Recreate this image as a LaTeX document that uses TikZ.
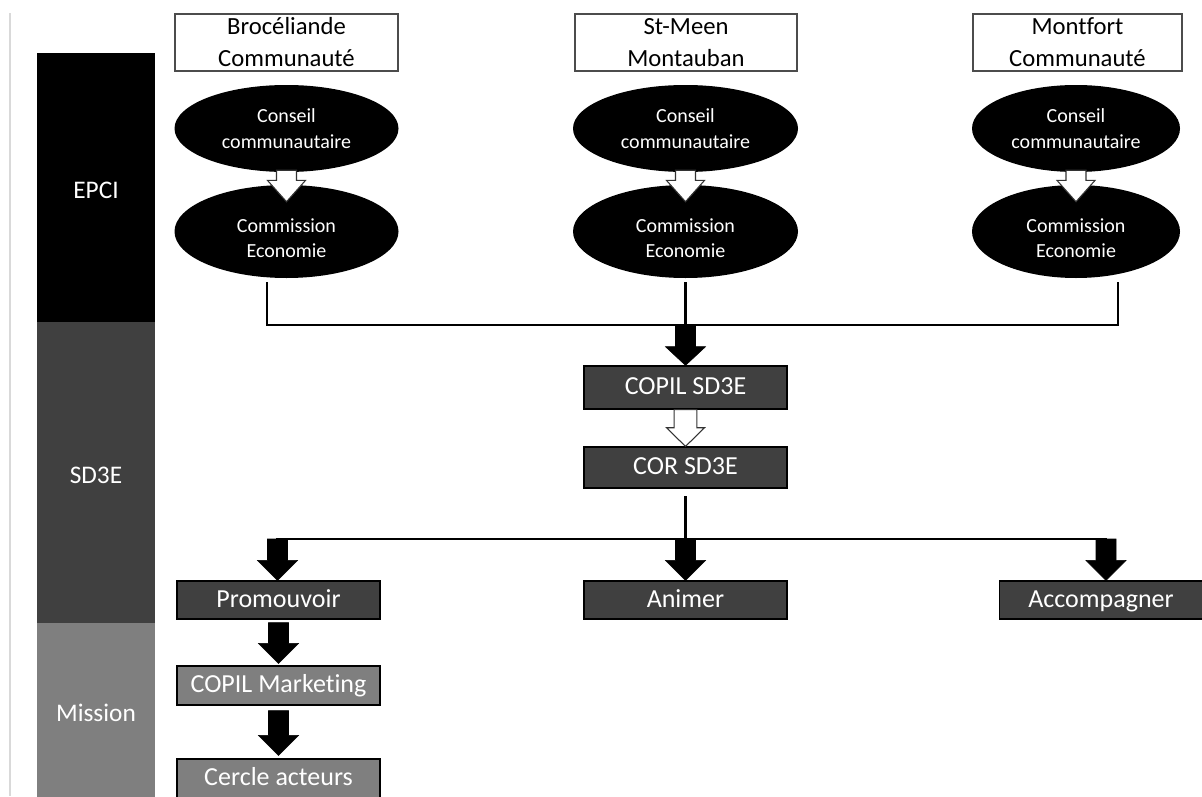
\documentclass[tikz,border=0pt]{standalone}
\usepackage{fontspec}
\setmainfont{Carlito}[Ligatures=NoCommon]
\usetikzlibrary{calc,shapes.geometric}
\definecolor{dgrey}{HTML}{404040}
\definecolor{mgrey}{HTML}{7F7F7F}
\newcommand{\blockarrow}[6]{%
  \draw[#1] let \p1=#2, \p2=#3 in
    (\x1-#4,\y1) -- (\x1+#4,\y1) -- (\x1+#4,\y2+#6) -- (\x1+#5,\y2+#6)
    -- (\x1,\y2) -- (\x1-#5,\y2+#6) -- (\x1-#4,\y2+#6) -- cycle;}
\tikzset{
  hdr/.style={draw=black!70, line width=0.8pt, fill=white, minimum height=42.75pt,
    inner sep=0pt, align=center, font=\fontsize{18.5}{24}\selectfont},
  ell/.style={ellipse, fill=black, text=white, inner sep=0pt, align=center,
    font=\fontsize{15}{19}\selectfont},
  dbox/.style={rectangle, draw=black, line width=0.9pt, fill=dgrey, text=white,
    minimum width=152.25pt, inner sep=0pt, text height=14.5pt, text depth=4pt,
    font=\fontsize{19.5}{22}\selectfont},
  gbox/.style={dbox, fill=mgrey},
  band/.style={rectangle, inner sep=0pt, text=white, minimum width=88.5pt,
    font=\fontsize{19}{22}\selectfont},
  conn/.style={line width=2.2pt, line cap=rect},
  warrow/.style={draw=black!80, line width=0.8pt, fill=white},
  barrow/.style={fill=black},
}
\begin{document}
\begin{tikzpicture}[x=0.75pt, y=-0.75pt]
\useasboundingbox (0,0) rectangle (1202,796);
\fill[white] (0,0) rectangle (1202,796);
% faint margin line
\draw[black!15, line width=0.8pt] (10,13) -- (10,796);
% left band
\node[band, fill=black, minimum height=201.75pt, anchor=north west] (bepci) at (37,53) {};
\node[band, fill=dgrey, minimum height=225.75pt, anchor=north west] (bsd) at (37,322) {};
\node[band, fill=mgrey, minimum height=130pt, anchor=north west] (bmis) at (37,623) {};
\node[band, text=white] (lepci) at (96,190) {EPCI};
\node[band, text=white] (lsd) at (96,475) {SD3E};
\node[band, text=white] (lmis) at (96,713) {Mission};
% headers
\node[hdr, minimum width=167.25pt] (h1) at (286.5,42.5) {Brocéliande\\Communauté};
\node[hdr, minimum width=166.5pt] (h2) at (686,42.5) {St-Meen\\Montauban};
\node[hdr, minimum width=156.75pt] (h3) at (1077.5,42.5) {Montfort\\Communauté};
% ellipses
\tikzset{cons/.style={ell, minimum height=65.25pt, text height=29.5pt, text depth=0pt},
         comm/.style={ell, minimum height=69.75pt, text height=39pt, text depth=0pt}}
\node[cons, minimum width=168pt] (cc1) at (286.5,128.5) {Conseil\\communautaire};
\node[comm, minimum width=168pt] (ce1) at (286.5,231.5) {Commission\\Economie};
\node[cons, minimum width=168.75pt] (cc2) at (685.5,128.5) {Conseil\\communautaire};
\node[comm, minimum width=168.75pt] (ce2) at (685.5,231.5) {Commission\\Economie};
\node[cons, minimum width=156pt] (cc3) at (1076,128.5) {Conseil\\communautaire};
\node[comm, minimum width=156pt] (ce3) at (1076,231.5) {Commission\\Economie};
% white arrows between ellipses
\blockarrow{warrow}{($(cc1.south)+(0,-2)$)}{($(ce1.north)+(0,17)$)}{7.5pt}{14.25pt}{16pt}
\blockarrow{warrow}{($(cc2.south)+(0,-2)$)}{($(ce2.north)+(0,17)$)}{7.5pt}{14.25pt}{16pt}
\blockarrow{warrow}{($(cc3.south)+(0,-2)$)}{($(ce3.north)+(0,17)$)}{7.5pt}{14.25pt}{16pt}
% SD3E boxes
\node[dbox, minimum height=32.25pt] (copil) at (685.5,387.5) {COPIL SD3E};
\node[dbox, minimum height=30.75pt] (cor) at (685.5,467.5) {COR SD3E};
% connectors from commissions
\coordinate (l1) at ($(ce1.south)+(-19.5,5)$);
\coordinate (m1) at ($(ce2.south)+(0,5)$);
\coordinate (r1) at ($(ce3.south)+(42,5)$);
\coordinate (hub) at (685.5,325);
\draw[conn] (l1) -- (l1 |- hub) -- (r1 |- hub) -- (r1);
\draw[conn] (m1) -- (hub);
\blockarrow{barrow}{(hub)}{(copil.north)}{7.5pt}{15pt}{14pt}
\blockarrow{warrow}{(copil.south)}{(cor.north)}{8.5pt}{14.25pt}{14pt}
% mission boxes
\node[dbox, minimum height=28.5pt] (prom) at (278.5,600) {Promouvoir};
\node[dbox, minimum height=28.5pt] (anim) at (685.5,600) {Animer};
\node[dbox, minimum height=28.5pt] (acc) at (1101,600) {Accompagner};
\node[gbox, minimum height=29.25pt] (cm) at (278.5,685.5) {COPIL Marketing};
\node[gbox, minimum height=29.25pt] (ca) at (278.5,778.5) {Cercle acteurs};
% lower distribution
\coordinate (c1) at ($(cor.south)+(0,9)$);
\coordinate (hub2) at (685.5,539);
\coordinate (pa) at ($(prom.north)+(-1,0)$);
\coordinate (aa) at ($(acc.north)+(5,0)$);
\draw[conn] (c1) -- (hub2);
\draw[conn] (pa |- hub2) -- (aa |- hub2);
\blockarrow{barrow}{(pa |- hub2)}{(pa)}{7.5pt}{15pt}{15pt}
\blockarrow{barrow}{(hub2)}{(anim.north)}{7.5pt}{15pt}{15pt}
\blockarrow{barrow}{(aa |- hub2)}{(aa)}{7.5pt}{15pt}{15pt}
\blockarrow{barrow}{($(prom.south)+(0,3)$)}{($(cm.north)+(0,-2)$)}{7.5pt}{15pt}{15pt}
\blockarrow{barrow}{($(cm.south)+(0,5)$)}{($(ca.north)+(0,-3)$)}{7.5pt}{15pt}{15pt}
\end{tikzpicture}
\end{document}
